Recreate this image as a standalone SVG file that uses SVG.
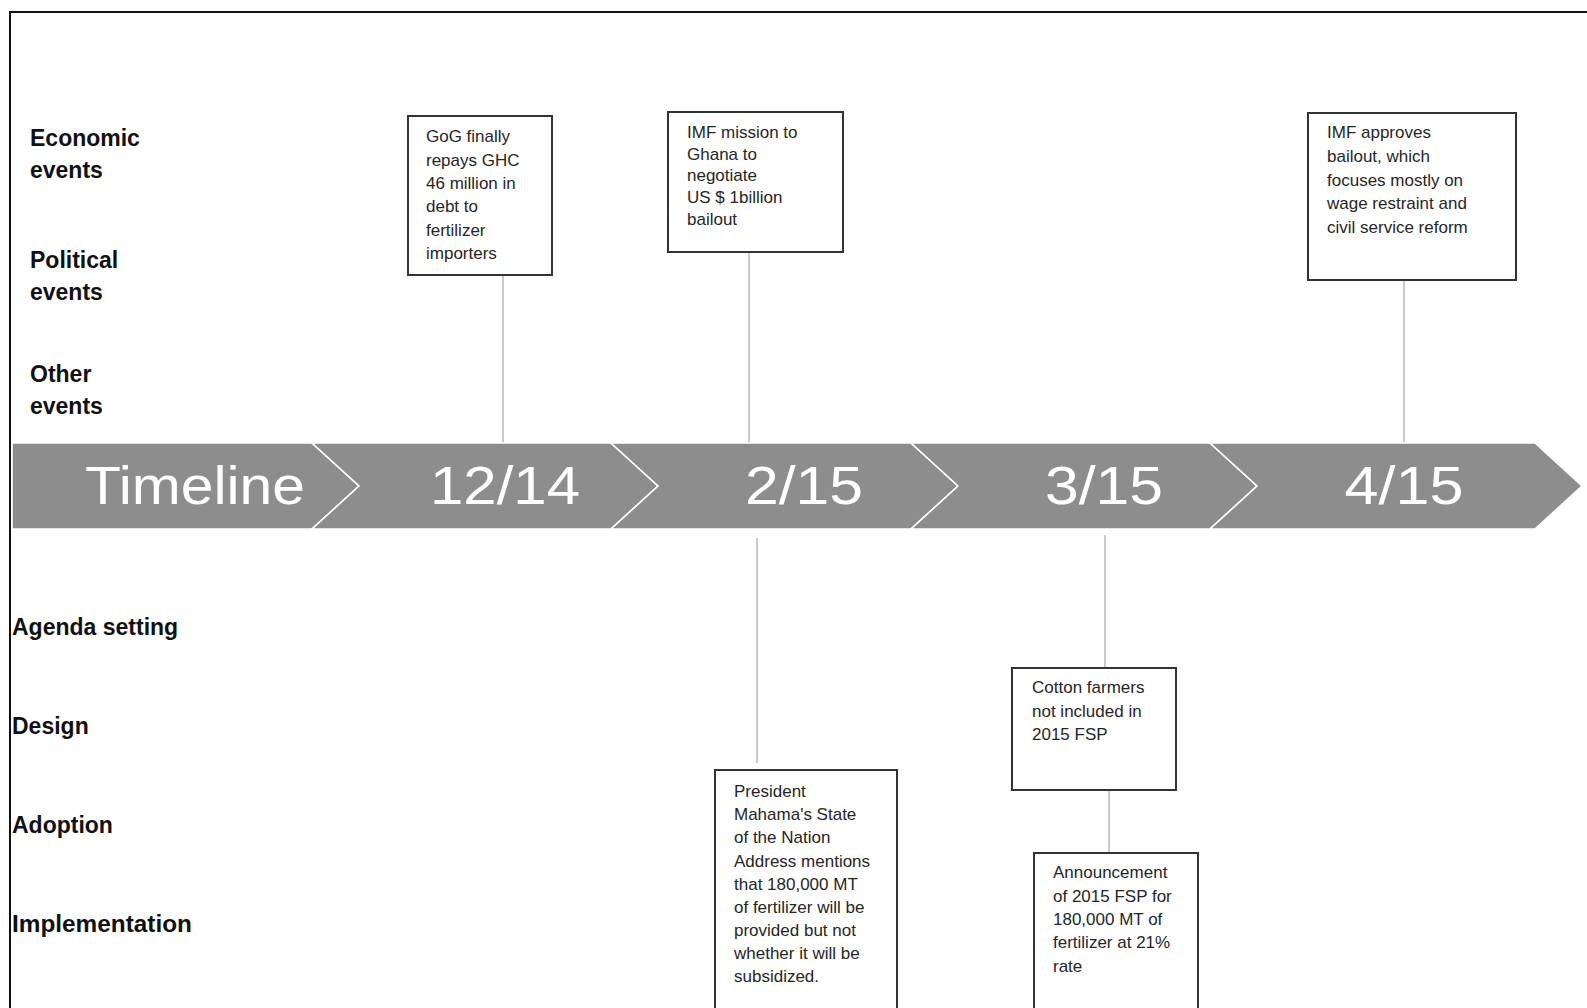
<svg xmlns="http://www.w3.org/2000/svg" width="1587" height="1008" viewBox="0 0 1587 1008">
  <style>
    .frame { fill: none; stroke: #111; stroke-width: 2; }
    .seg { fill: #8d8d8d; stroke: #ffffff; stroke-width: 1.6; stroke-linejoin: miter; }
    .segtext { font-family: "Liberation Sans", Arial, sans-serif; font-size: 54px; fill: #ffffff; text-anchor: middle; }
    .row { font-family: "Liberation Sans", Arial, sans-serif; font-size: 23px; font-weight: bold; fill: #111; }
    .box { fill: #ffffff; stroke: #333; stroke-width: 2; }
    .note { font-family: "Liberation Sans", Arial, sans-serif; font-size: 17px; fill: #262626; }
    .link { stroke: #bdbdbd; stroke-width: 1.6; fill: none; }
  </style>

  <rect width="1587" height="1008" fill="#ffffff"/>
  <!-- page frame: only the top and left edges are visible -->
  <path class="frame" d="M10,1010 V12 H1590"/>

  <!-- row headings above the timeline -->
  <g id="row-labels-top">
    <text class="row" x="30" y="146">Economic</text>
    <text class="row" x="30" y="178">events</text>
    <text class="row" x="30" y="268">Political</text>
    <text class="row" x="30" y="300">events</text>
    <text class="row" x="30" y="382">Other</text>
    <text class="row" x="30" y="414">events</text>
  </g>

  <!-- row headings below the timeline -->
  <g id="row-labels-bottom">
    <text class="row" x="12" y="635">Agenda setting</text>
    <text class="row" x="12" y="734">Design</text>
    <text class="row" x="12" y="833">Adoption</text>
    <text class="row" x="12" y="932" textLength="180" lengthAdjust="spacingAndGlyphs">Implementation</text>
  </g>

  <!-- connectors -->
  <g id="connectors">
    <line class="link" x1="503" y1="275" x2="503" y2="443"/>
    <line class="link" x1="749" y1="252" x2="749" y2="443"/>
    <line class="link" x1="1404" y1="280" x2="1404" y2="443"/>
    <line class="link" x1="757" y1="538" x2="757" y2="763"/>
    <line class="link" x1="1105" y1="535" x2="1105" y2="668"/>
    <line class="link" x1="1109" y1="790" x2="1109" y2="853"/>
  </g>

  <!-- timeline chevrons -->
  <g id="timeline">
    <g id="seg-timeline">
      <path class="seg" d="M12,443 H312 L359,486 L312,529 H12 Z"/>
      <text class="segtext" x="195" y="504" textLength="220" lengthAdjust="spacingAndGlyphs">Timeline</text>
    </g>
    <g id="seg-1214">
      <path class="seg" d="M312,443 H611 L658,486 L611,529 H312 L359,486 Z"/>
      <text class="segtext" x="505" y="504" textLength="150" lengthAdjust="spacingAndGlyphs">12/14</text>
    </g>
    <g id="seg-215">
      <path class="seg" d="M611,443 H911 L958,486 L911,529 H611 L658,486 Z"/>
      <text class="segtext" x="804" y="504" textLength="118" lengthAdjust="spacingAndGlyphs">2/15</text>
    </g>
    <g id="seg-315">
      <path class="seg" d="M911,443 H1210 L1257,486 L1210,529 H911 L958,486 Z"/>
      <text class="segtext" x="1104" y="504" textLength="118" lengthAdjust="spacingAndGlyphs">3/15</text>
    </g>
    <g id="seg-415">
      <path class="seg" d="M1210,443 H1535 L1582,486 L1535,529 H1210 L1257,486 Z"/>
      <text class="segtext" x="1404" y="504" textLength="119" lengthAdjust="spacingAndGlyphs">4/15</text>
    </g>
  </g>

  <!-- event boxes -->
  <g id="node-gog-repays">
    <rect class="box" x="408" y="116" width="144" height="159"/>
    <text class="note" x="426" y="142">GoG finally</text>
    <text class="note" x="426" y="166">repays GHC</text>
    <text class="note" x="426" y="189">46 million in</text>
    <text class="note" x="426" y="212">debt to</text>
    <text class="note" x="426" y="236">fertilizer</text>
    <text class="note" x="426" y="259">importers</text>
  </g>

  <g id="node-imf-mission">
    <rect class="box" x="668" y="112" width="175" height="140"/>
    <text class="note" x="687" y="138">IMF mission to</text>
    <text class="note" x="687" y="160">Ghana to</text>
    <text class="note" x="687" y="181">negotiate</text>
    <text class="note" x="687" y="203">US $ 1billion</text>
    <text class="note" x="687" y="225">bailout</text>
  </g>

  <g id="node-imf-approves">
    <rect class="box" x="1308" y="113" width="208" height="167"/>
    <text class="note" x="1327" y="138">IMF approves</text>
    <text class="note" x="1327" y="162">bailout, which</text>
    <text class="note" x="1327" y="186">focuses mostly on</text>
    <text class="note" x="1327" y="209">wage restraint and</text>
    <text class="note" x="1327" y="233">civil service reform</text>
  </g>

  <g id="node-state-of-nation">
    <rect class="box" x="715" y="770" width="182" height="250"/>
    <text class="note" x="734" y="797">President</text>
    <text class="note" x="734" y="820">Mahama's State</text>
    <text class="note" x="734" y="843">of the Nation</text>
    <text class="note" x="734" y="867">Address mentions</text>
    <text class="note" x="734" y="890">that 180,000 MT</text>
    <text class="note" x="734" y="913">of fertilizer will be</text>
    <text class="note" x="734" y="936">provided but not</text>
    <text class="note" x="734" y="959">whether it will be</text>
    <text class="note" x="734" y="982">subsidized.</text>
  </g>

  <g id="node-cotton">
    <rect class="box" x="1012" y="668" width="164" height="122"/>
    <text class="note" x="1032" y="693">Cotton farmers</text>
    <text class="note" x="1032" y="717">not included in</text>
    <text class="note" x="1032" y="740">2015 FSP</text>
  </g>

  <g id="node-announcement">
    <rect class="box" x="1034" y="853" width="164" height="170"/>
    <text class="note" x="1053" y="878">Announcement</text>
    <text class="note" x="1053" y="902">of 2015 FSP for</text>
    <text class="note" x="1053" y="925">180,000 MT of</text>
    <text class="note" x="1053" y="948">fertilizer at 21%</text>
    <text class="note" x="1053" y="972">rate</text>
  </g>
</svg>
